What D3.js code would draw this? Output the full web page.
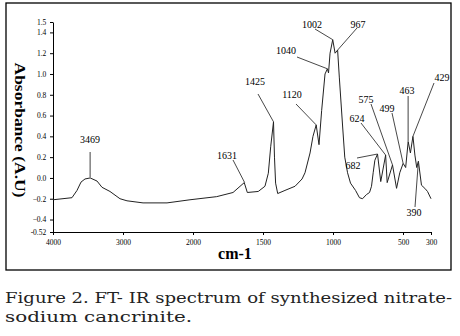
<!DOCTYPE html>
<html>
<head>
<meta charset="utf-8">
<script src="https://cdn.jsdelivr.net/npm/d3@7"></script>
<style>
  body { margin: 0; background: #fff; }
  svg { display: block; }
</style>
</head>
<body>
<div id="chart"></div>
<script>
// wavenumber (cm-1) and absorbance
const waveNumbers = [4000, 3729, 3657, 3600, 3543, 3469, 3371, 3300, 3186, 3043, 2943, 2714, 2371, 2043,
  1831, 1714, 1634, 1612, 1534, 1486, 1462, 1445, 1425, 1418, 1410, 1395, 1343, 1271, 1221, 1200,
  1164, 1143, 1120, 1100, 1081, 1057, 1040, 1032, 1021, 1002, 985, 967, 955, 931, 916, 896, 875,
  839, 811, 789, 761, 739, 725, 713, 701, 682, 659, 624, 613, 575, 546, 523, 499, 481, 463, 447,
  429, 415, 402, 390, 368, 344, 325, 300];
const absorbance = [-0.21, -0.19, -0.12, -0.04, -0.01, 0.00, -0.03, -0.09, -0.13, -0.20, -0.22, -0.24, -0.24, -0.21,
  -0.18, -0.14, -0.045, -0.14, -0.13, -0.08, 0.045, 0.30, 0.54, 0.20, -0.05, -0.15, -0.12, -0.08, -0.01, 0.05,
  0.24, 0.40, 0.51, 0.32, 0.65, 1.00, 1.05, 1.01, 1.20, 1.33, 1.20, 1.23, 0.97, 0.49, 0.20, 0.05, -0.05,
  -0.12, -0.19, -0.20, -0.16, -0.14, -0.08, 0.05, 0.17, 0.23, -0.035, 0.22, -0.045, 0.125, -0.10, 0.05, 0.14, 0.10, 0.35, 0.24,
  0.40, 0.22, 0.10, 0.16, -0.07, -0.10, -0.13, -0.20];

// peak labels
const peakLabels = ["3469", "1631", "1425", "1120", "1040", "1002", "967", "682", "624", "575", "499", "463", "429", "390"];
const peakWave = [3469, 1631, 1425, 1120, 1040, 1002, 967, 682, 624, 575, 499, 463, 429, 390];
const peakAbs = [0.00, -0.045, 0.54, 0.51, 1.05, 1.33, 1.23, 0.23, 0.22, 0.125, 0.14, 0.35, 0.40, 0.16];

// axis ticks
const xTicks = [4000, 3000, 2000, 1500, 1000, 500, 300];
const yTicks = [1.5, 1.4, 1.2, 1.0, 0.8, 0.6, 0.4, 0.2, 0.0, -0.2, -0.4, -0.52];

const W = 460, H = 336;
const svg = d3.select("#chart").append("svg")
  .attr("width", W).attr("height", H);

// frame
svg.append("rect")
  .attr("x", 6).attr("y", 3)
  .attr("width", 445).attr("height", 267)
  .attr("fill", "none").attr("stroke", "#000").attr("stroke-width", 1.3);

// split scale: 4000-2000 compressed, 2000-300 expanded
const x = d3.scaleLinear().domain([4000, 2000, 300]).range([53, 193, 431]);
const y = d3.scaleLinear().domain([-0.52, 1.5]).range([232, 22]);

const serif = "'Liberation Serif', 'Times New Roman', serif";

// axes
const gx = svg.append("g")
  .attr("transform", "translate(0,232)")
  .call(d3.axisBottom(x).tickValues(xTicks).tickSize(3).tickSizeOuter(0).tickFormat(d3.format("d")));
gx.selectAll("text").attr("dy", "0.9em").style("font-family", serif).style("font-size", "7.5px");

const gy = svg.append("g")
  .attr("transform", "translate(53,0)")
  .call(d3.axisLeft(y).tickValues(yTicks).tickSize(3).tickSizeOuter(0)
    .tickFormat(d => d === -0.52 ? "-0.52" : d3.format(".1f")(d)));
gy.selectAll("text").attr("dx", "-0.1em").style("font-family", serif).style("font-size", "7.5px");

svg.selectAll(".domain, .tick line").attr("stroke", "#000");

// axis titles
svg.append("text")
  .attr("transform", "translate(15,130) rotate(90)")
  .attr("text-anchor", "middle")
  .attr("textLength", 135).attr("lengthAdjust", "spacingAndGlyphs")
  .style("font-family", serif).style("font-weight", "bold").style("font-size", "15px")
  .text("Absorbance (A.U)");

svg.append("text")
  .attr("x", 235).attr("y", 259)
  .attr("text-anchor", "middle")
  .style("font-family", serif).style("font-weight", "bold").style("font-size", "16px")
  .text("cm-1");

// spectrum
const pts = waveNumbers.map((w, i) => [w, absorbance[i]]);
svg.append("path")
  .datum(pts)
  .attr("fill", "none")
  .attr("stroke", "#222")
  .attr("stroke-width", 1)
  .attr("d", d3.line().x(d => x(d[0])).y(d => y(d[1])));

// label placement (pixel centres of the text, leader start)
const labelPos = {
  "3469": [90, 139, 90, 152, true],
  "1631": [227, 155, 233, 160],
  "1425": [255, 81, 258, 94],
  "1120": [292, 94, 296, 104],
  "1040": [286, 50, 297, 57],
  "1002": [312, 24, 315, 29],
  "967": [358, 24, 357, 28],
  "682": [353, 165, 357, 158],
  "624": [357, 118, 361, 123],
  "575": [366, 99, 371, 104],
  "499": [387, 108, 392, 113],
  "463": [407, 90, 408, 96, true],
  "429": [442, 77, 434, 83],
  "390": [414, 212, 415, 207]
};

peakLabels.forEach((lab, i) => {
  const p = labelPos[lab];
  const px = x(peakWave[i]), py = y(peakAbs[i]);
  svg.append("line")
    .attr("x1", p[4] ? px : p[2]).attr("y1", p[3])
    .attr("x2", px).attr("y2", py)
    .attr("stroke", p[4] ? "#888" : "#333")
    .attr("stroke-width", p[4] ? 1.6 : 0.9);
  svg.append("text")
    .attr("x", p[0]).attr("y", p[1] + 3.5)
    .attr("text-anchor", "middle")
    .style("font-family", serif).style("font-size", "10px")
    .text(lab);
});

// caption
const capFont = "'DejaVu Serif', serif";
svg.append("text")
  .attr("x", 5).attr("y", 303)
  .attr("textLength", 447).attr("lengthAdjust", "spacingAndGlyphs")
  .style("font-family", capFont).style("font-size", "14.5px").style("fill", "#222")
  .text("Figure 2. FT- IR spectrum of synthesized nitrate-");
svg.append("text")
  .attr("x", 5).attr("y", 322)
  .attr("textLength", 187).attr("lengthAdjust", "spacingAndGlyphs")
  .style("font-family", capFont).style("font-size", "14.5px").style("fill", "#222")
  .text("sodium cancrinite.");
</script>
</body>
</html>
